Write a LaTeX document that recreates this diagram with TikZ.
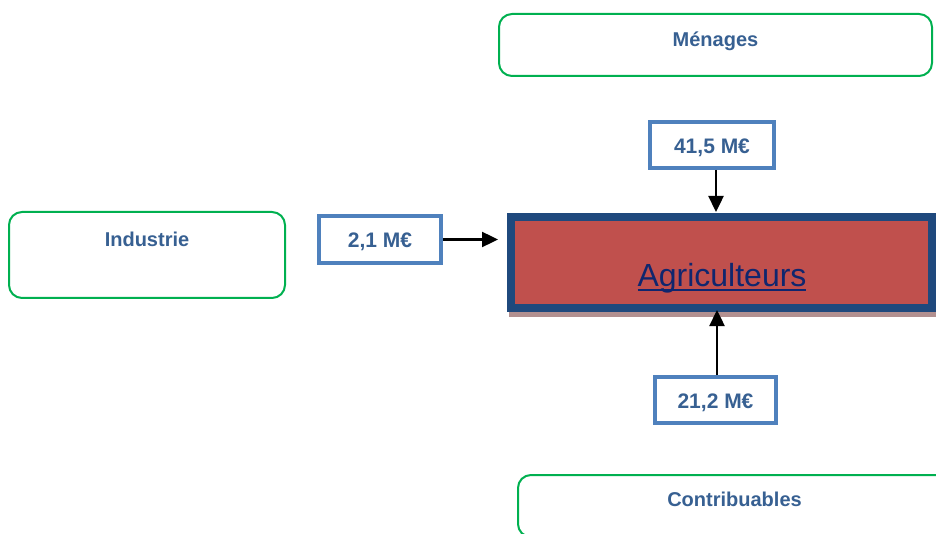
\documentclass[tikz,border=0pt]{standalone}
\usepackage{fontspec}
\setmainfont{Liberation Sans}
\usetikzlibrary{arrows.meta,shadows}
\definecolor{greenb}{RGB}{0,176,80}
\definecolor{labc}{RGB}{55,96,146}
\definecolor{valb}{RGB}{79,129,189}
\definecolor{agrib}{RGB}{31,73,125}
\definecolor{agrif}{RGB}{192,80,77}
\definecolor{shadowc}{RGB}{178,144,144}
\definecolor{agrit}{RGB}{16,38,110}
\newcommand{\agul}[1]{\setbox0\hbox{#1}\rlap{\rule[-4.5pt]{\wd0}{2pt}}\box0}
\begin{document}
\begin{tikzpicture}[x=1pt,y=-1pt,
  sector/.style={draw=greenb, line width=2pt, rounded corners=13pt, rectangle, inner sep=0pt, fill=white},
  lab/.style={font=\fontsize{20}{24}\selectfont\bfseries, text=labc, inner sep=0pt},
  valbox/.style={draw=valb, line width=4pt, rectangle, inner sep=0pt, fill=white, font=\fontsize{21}{25}\selectfont\bfseries, text=labc, text height=17pt, text depth=0pt},
  flow/.style={line width=2.4pt, -{Triangle[length=16pt,width=15pt]}}]
\useasboundingbox (0,0) rectangle (936,534);
\clip (0,0) rectangle (936,534);
% sector boxes
\node[sector, minimum width=433pt, minimum height=62pt] (men) at (715.5,45) {};
\node[sector, minimum width=276pt, minimum height=86pt] (ind) at (147,255) {};
\node[sector, minimum width=433pt, minimum height=62pt] (con) at (734.5,506) {};
\node[lab, anchor=base] (menl) at ([yshift=-34pt]men.north) {Ménages};
\node[lab, anchor=base] (indl) at ([yshift=-36pt]ind.north) {Industrie};
\node[lab, anchor=base] (conl) at ([yshift=-32pt]con.north) {Contribuables};
% value boxes
\node[valbox, minimum width=124pt, minimum height=46pt] (v1) at (712,145) {41,5 M€};
\node[valbox, minimum width=122pt, minimum height=47pt] (v2) at (380,239.5) {2,1 M€};
\node[valbox, minimum width=121pt, minimum height=46pt] (v3) at (715.5,400) {21,2 M€};
% agriculteurs
\node[rectangle, draw=agrib, line width=8pt, fill=agrif, minimum width=421pt, minimum height=91pt,
  drop shadow={shadow xshift=2pt, shadow yshift=-5pt, fill=shadowc, draw=shadowc, line width=8pt, opacity=1}]
  (agri) at (721.5,262.5) {};
\node[anchor=base, inner sep=0pt, text=agrit, font=\fontsize{32}{38}\selectfont] (agril) at (722,287) {\agul{Agriculteurs}};
% flows
\draw[flow, shorten >=9pt] (v2.east) -- (v2.east -| agri.west);
\draw[flow, shorten >=1pt] ([xshift=4pt]v1.south) -- ([xshift=4pt]v1.south |- agri.north);
\draw[flow, shorten >=-2pt] ([xshift=1.5pt]v3.north) -- ([xshift=1.5pt]v3.north |- agri.south);
\end{tikzpicture}
\end{document}
